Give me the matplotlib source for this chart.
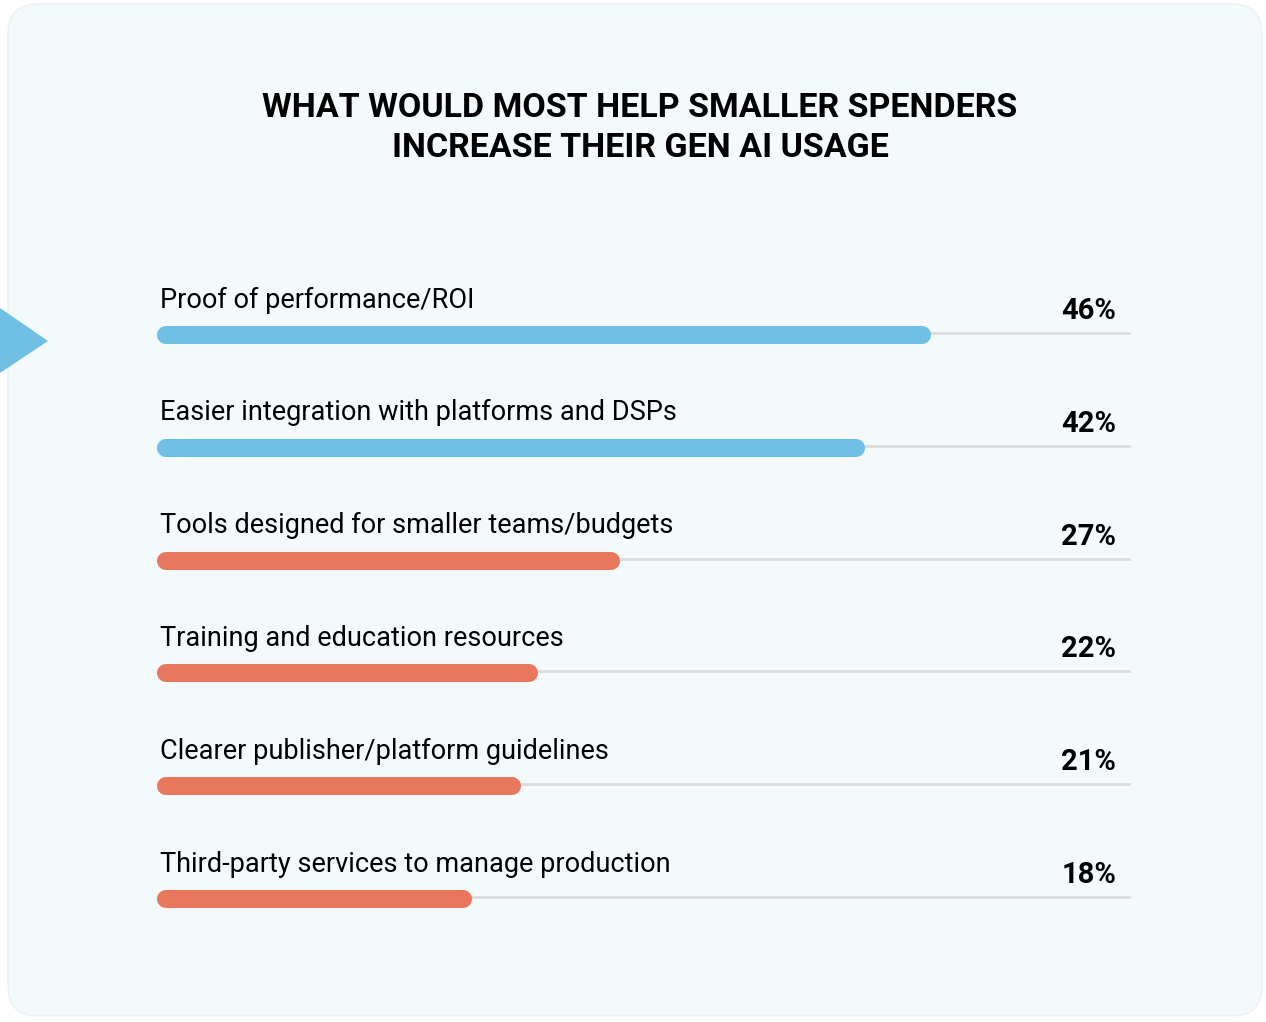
import matplotlib
matplotlib.use('Agg')
import matplotlib.pyplot as plt
from matplotlib.patches import FancyBboxPatch, Polygon

labels = ["Proof of performance/ROI",
          "Easier integration with platforms and DSPs",
          "Tools designed for smaller teams/budgets",
          "Training and education resources",
          "Clearer publisher/platform guidelines",
          "Third-party services to manage production"]
values = [46, 42, 27, 22, 21, 18]
colors = ["#70c0e6", "#70c0e6", "#e8775d", "#e8775d", "#e8775d", "#e8775d"]
title = "WHAT WOULD MOST HELP SMALLER SPENDERS\nINCREASE THEIR GEN AI USAGE"

W, H = 1266, 1022
fig = plt.figure(figsize=(W / 100, H / 100), dpi=100)
fig.patch.set_facecolor('white')

# background panel in pixel coordinates
bg = fig.add_axes([0, 0, 1, 1])
bg.set_xlim(0, W)
bg.set_ylim(H, 0)
bg.axis('off')
bg.add_patch(FancyBboxPatch((8, 4), W - 12, H - 10, boxstyle="round,pad=0,rounding_size=30",
                            fc="#f4f9fc", ec="#eaf1f5", lw=1))
bg.add_patch(Polygon([(0, 308), (48, 341), (0, 373)], closed=True, fc="#70c0e6", ec='none'))
lf = ['Liberation Sans Narrow', 'Roboto', 'DejaVu Sans']
bg.text(640, 128, title, ha='center', va='center', fontsize=24.5, fontweight='bold',
        family=lf, linespacing=1.35)

# bar axes: pixel 157..1131 horizontally
x0, x1 = 157, 1131
ax = fig.add_axes([x0 / W, 0, (x1 - x0) / W, 1])
vmin, vmax = -1.22, 58.2
ax.set_xlim(vmin, vmax)
ax.set_ylim(H, 0)
ax.axis('off')
cap = 0.55
for i, (lab, v, c) in enumerate(zip(labels, values, colors)):
    yb = 335 + i * 112.8
    ax.plot([vmin, vmax], [yb - 2, yb - 2], color="#dcdcdc", lw=2, solid_capstyle='butt', zorder=1)
    ax.plot([vmin + cap, v - cap], [yb, yb], color=c, lw=13, solid_capstyle='round', zorder=2)
    ax.text(vmin + 0.18, yb - 35, lab, ha='left', va='center', fontsize=19.5, family=lf)
    ax.text(57.3, yb - 24, f"{v}%", ha='right', va='center', fontsize=21,
            fontweight='bold', family=lf)

fig.savefig("out.png", dpi=100)
